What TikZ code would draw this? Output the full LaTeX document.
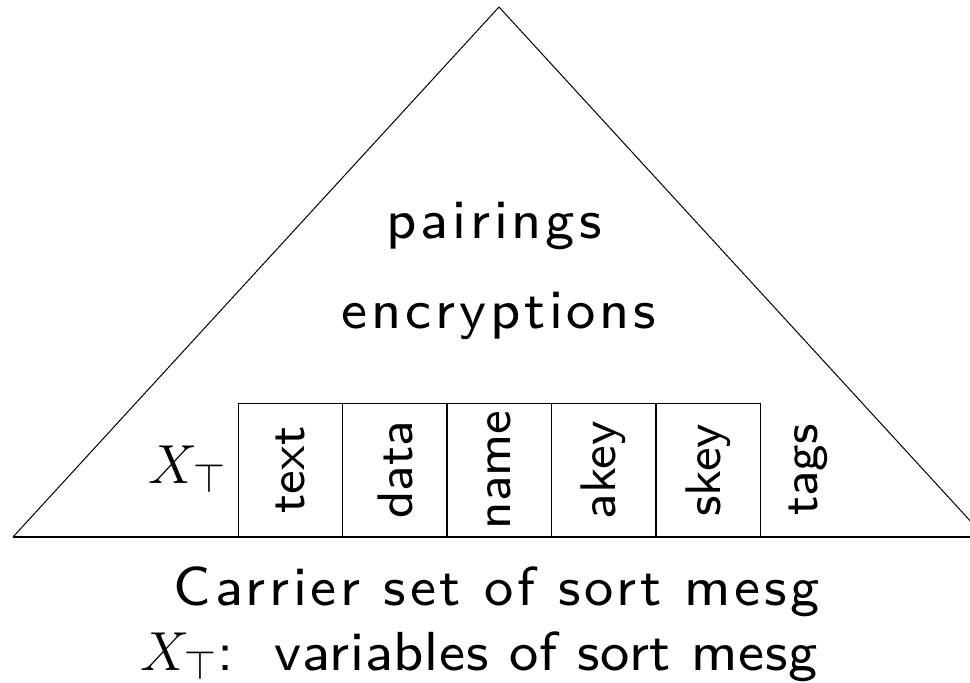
\RequirePackage{fix-cm}
\documentclass[tikz,border=0pt]{standalone}
\usepackage{fontspec}
\newfontfamily\widesans{lmsans8-regular.otf}[LetterSpace=7]
\newfontfamily\widesansb{lmsans8-regular.otf}[LetterSpace=1.5]
\newfontfamily\widesansr{lmsans8-regular.otf}[LetterSpace=0]
\DeclareMathSizes{55}{55}{41}{30}
\begin{document}
\begin{tikzpicture}[x=1pt,y=-1pt,
  lbl/.style={font=\fontsize{55}{62}\selectfont\widesans, inner sep=0pt},
  lblb/.style={font=\fontsize{55}{62}\selectfont\widesansb, inner sep=0pt},
  rlbl/.style={font=\fontsize{50}{60}\selectfont\widesansr, inner sep=0pt, rotate=90},
  cell/.style={draw, line width=1pt, minimum width=104pt, minimum height=133pt, inner sep=0pt, anchor=south west}]
\useasboundingbox (0,0) rectangle (970,683);
\coordinate (apex) at (499,7);
\coordinate (bl) at (13,537);
\coordinate (br) at (985,537);
\coordinate (be) at (970,537);
\draw[line width=1pt] (bl) -- (apex) -- (br);
\draw[line width=1.5pt] (bl) -- (be);
\node[lbl] (pair) at (494,226) {pairings};
\node[lbl] (enc) at (499,316) {encryptions};
\node[lbl, anchor=base east] (xt) at (226,483) {$X_\top$};
\foreach \n/\t [count=\i from 0] in {c1/text,c2/data,c3/name,c4/akey,c5/skey}{
  \node[cell] (\n) at ({238+104.4*\i},537) {};
  \node[rlbl] (\n t) at (\n.center) {\t};
}
\node[rlbl] (tags) at (808,470) {tags};
\node[lbl] (cap1) at (497,592) {Carrier set of sort mesg};
\node[lblb, anchor=base west] (cap2) at (140,670) {$X_\top$:\hspace{14pt} variables of sort mesg};
\end{tikzpicture}
\end{document}
